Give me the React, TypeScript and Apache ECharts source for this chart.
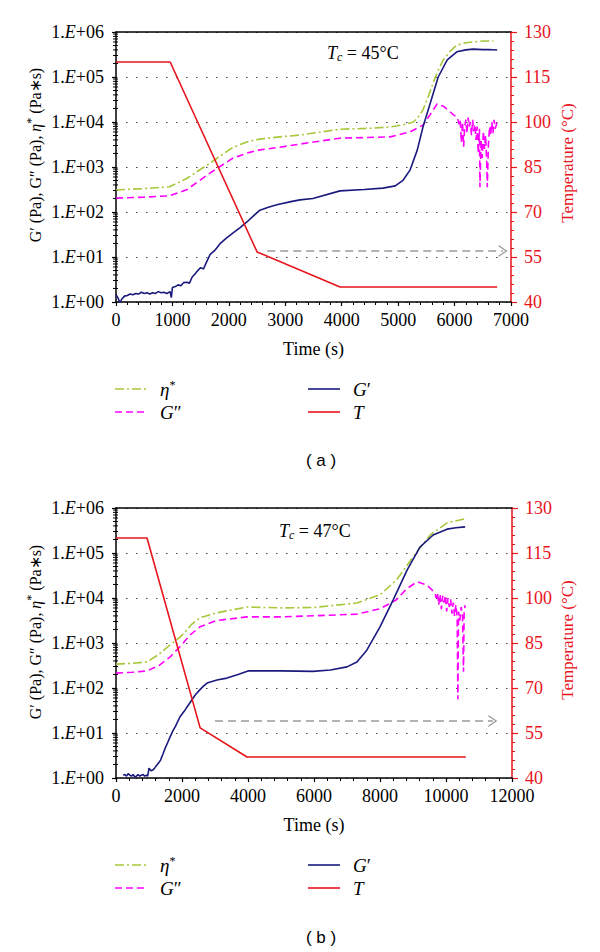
import React, { useEffect, useRef } from "react";
import * as echarts from "echarts";

// ---------- Chart (a) data : Tc = 45 °C ----------
const tEtaA = [0, 500, 950, 1260, 1670, 2075, 2350, 2550, 2900, 3260, 3970, 4500, 4860, 5100, 5270, 5350, 5440, 5530, 5620, 5710, 5800, 5920, 6040, 6200, 6330, 6500, 6690];
const etaA = [309, 331, 363, 562, 1230, 2754, 3715, 4169, 4677, 5129, 6918, 7244, 7762, 8710, 10000, 12590, 18620, 35480, 74130, 141300, 239900, 371500, 512900, 575400, 602600, 631000, 631000];

const tGppA = [0, 500, 950, 1260, 1670, 2075, 2350, 2550, 2900, 3260, 3970, 4860, 5210, 5440, 5560, 5690, 5800, 5900, 5980, 6050, 6080, 6100, 6120, 6140, 6160, 6180, 6200, 6220, 6240, 6260, 6280, 6300, 6320, 6340, 6360, 6380, 6400, 6420, 6440, 6450, 6470, 6490, 6510, 6530, 6550, 6570, 6580, 6600, 6620, 6640, 6660, 6680, 6700, 6720, 6750];
const gppA = [204, 214, 229, 316, 741, 1585, 2089, 2399, 2754, 3236, 4365, 4677, 6026, 8511, 14130, 25120, 22390, 17780, 14450, 12590, 8910, 11220, 3550, 10000, 2820, 7940, 11220, 5620, 12590, 7940, 10000, 5010, 11220, 6310, 8910, 3980, 7940, 2000, 7080, 355, 3980, 1585, 6310, 2510, 5010, 1260, 355, 3160, 7940, 5010, 10000, 5620, 11220, 7080, 9550];

const tGpA = [0, 40, 70, 100, 150, 200, 250, 300, 350, 400, 450, 500, 550, 600, 650, 700, 750, 800, 850, 900, 960, 980, 1000, 1050, 1100, 1150, 1200, 1260, 1300, 1350, 1400, 1450, 1500, 1550, 1600, 1670, 1750, 1840, 1950, 2070, 2200, 2320, 2450, 2550, 2700, 2850, 3100, 3260, 3490, 3970, 4400, 4730, 4950, 5090, 5210, 5340, 5440, 5570, 5710, 5870, 6040, 6200, 6330, 6500, 6600, 6755];
const gpA = [1.45, 1.2, 0.95, 1.15, 1.35, 1.4, 1.5, 1.45, 1.55, 1.5, 1.65, 1.55, 1.6, 1.5, 1.6, 1.55, 1.7, 1.6, 1.65, 1.55, 1.7, 1.25, 2.1, 2.2, 2.4, 2.3, 2.7, 2.75, 2.6, 3.6, 4.2, 5.0, 5.8, 5.4, 7.5, 11.5, 14, 19.5, 26, 34, 45, 60, 85, 110, 128, 145, 170, 186, 200, 295, 316, 339, 380, 513, 851, 2400, 7760, 26300, 100000, 240000, 363000, 400000, 417000, 405000, 410000, 398000];

const tTA = [0, 960, 2500, 3970, 6755];
const tempA = [120, 120, 56.7, 45, 45];
const arrowA = [[2680, 57], [6860, 57]];

// ---------- Chart (b) data : Tc = 47 °C ----------
const tEtaB = [0, 500, 940, 1300, 1640, 1940, 2100, 2300, 2545, 3050, 3970, 5000, 6000, 7300, 8000, 8500, 9000, 9520, 10030, 10580];
const etaB = [339, 355, 380, 562, 912, 1349, 1778, 2630, 3631, 4677, 6310, 6026, 6166, 7762, 11750, 25120, 81280, 251200, 467700, 575400];

const tGppB = [0, 500, 940, 1300, 1640, 1940, 2250, 2545, 3050, 3970, 5000, 7300, 8000, 8500, 8800, 9120, 9420, 9670, 9700, 9740, 9780, 9820, 9860, 9900, 9940, 9980, 10020, 10060, 10100, 10140, 10180, 10220, 10260, 10300, 10340, 10360, 10380, 10420, 10460, 10500, 10530, 10550, 10580];
const gppB = [214, 224, 240, 316, 490, 832, 1514, 2291, 3162, 3802, 3802, 4365, 5754, 9120, 15850, 22910, 19500, 12880, 10000, 13180, 7080, 12020, 5620, 11220, 7940, 11480, 5010, 10000, 6310, 9330, 4470, 7940, 3980, 7080, 3550, 56, 5010, 3160, 6310, 3980, 229, 5010, 6920];

const tGpB = [220, 270, 320, 370, 420, 470, 520, 570, 620, 670, 720, 770, 820, 870, 920, 960, 1000, 1060, 1120, 1180, 1240, 1300, 1350, 1430, 1500, 1560, 1640, 1720, 1800, 1940, 2100, 2240, 2400, 2545, 2650, 2760, 3060, 3360, 3700, 4000, 5000, 5970, 6500, 7000, 7300, 7600, 8000, 8400, 8820, 9210, 9610, 10030, 10300, 10580];
const gpB = [1.15, 1.2, 1.1, 1.25, 1.15, 1.1, 1.2, 1.05, 1.1, 1.2, 1.1, 1.15, 1.2, 1.1, 1.15, 1.1, 1.65, 1.45, 1.5, 1.7, 1.95, 2.2, 2.5, 3.5, 4.8, 6.0, 8.2, 11, 14, 23, 33, 47, 70, 92, 110, 129, 150, 166, 200, 240, 240, 234, 251, 295, 380, 692, 2290, 9120, 41690, 134900, 251200, 338800, 363100, 380200];

const tTB = [0, 940, 2550, 3970, 10600];
const tempB = [120, 120, 56.7, 47, 47];
const arrowB = [[3000, 59], [11420, 59]];

// ---------- axis / label constants ----------
const xMaxA = 7000;
const xIntA = 1000;
const xMaxB = 12000;
const xIntB = 2000;
const tempMin = 40;
const tempMax = 130;
const tempInt = 15;
const logMin = 1;
const logMax = 1e6;
const titleA = "45°C";
const titleB = "47°C";

const SERIF = "Liberation Serif";
const RED = "#e8141c";
const GREEN = "#a6c83a";
const MAGENTA = "#ff00ff";
const NAVY = "#1a1a7e";
const TICKFS = 18;

const zip = (xs: number[], ys: number[]) => xs.map((x, i) => [x, ys[i]]);

// minor tick positions of the log axis (2..9 × 10^n)
const minorLog: number[][] = [];
for (let n = 0; n < 6; n++) for (let k = 2; k <= 9; k++) minorLog.push([0, k * Math.pow(10, n)]);

const chevron = "path://M0,10 L6,0 L12,10 L10.6,10 L6,2.4 L1.4,10 Z";

function buildGrid(gi: number, xMax: number, xInt: number, data: any) {
  const xi = gi * 2;
  const yi = gi * 2;
  const xAxes = [
    {
      type: "value", gridIndex: gi, position: "bottom", min: 0, max: xMax, interval: xInt,
      axisLine: { show: true, onZero: false, lineStyle: { color: "#000", width: 1.5 } },
      axisTick: { show: true, inside: false, length: 4, lineStyle: { color: "#000", width: 1.2 } },
      minorTick: { show: true, splitNumber: 5, length: 3, lineStyle: { color: "#000", width: 1 } },
      axisLabel: { color: "#000", fontFamily: SERIF, fontSize: TICKFS, margin: 9, formatter: (v: number) => String(v) },
      splitLine: { show: false },
      name: "Time (s)", nameLocation: "middle", nameGap: 38,
      nameTextStyle: { color: "#000", fontFamily: SERIF, fontSize: 18 },
    },
    {
      type: "value", gridIndex: gi, position: "top", min: 0, max: xMax,
      axisLine: { show: true, onZero: false, lineStyle: { color: "#000", width: 1.5 } },
      axisTick: { show: false }, axisLabel: { show: false }, splitLine: { show: false },
    },
  ];
  const yAxes = [
    {
      type: "log", gridIndex: gi, position: "left", min: logMin, max: logMax, logBase: 10, interval: 1,
      axisLine: { show: true, onZero: false, lineStyle: { color: "#000", width: 1.5 } },
      axisTick: { show: true, inside: false, length: 4, lineStyle: { color: "#000", width: 1.2 } },
      axisLabel: {
        margin: 12,
        formatter: (v: number) => {
          const k = Math.round(Math.log10(v));
          return "{n|1.}{e|E}{n|+0" + k + "}";
        },
        rich: {
          n: { fontFamily: SERIF, fontSize: TICKFS, color: "#000" },
          e: { fontFamily: SERIF, fontSize: TICKFS, color: "#000", fontStyle: "italic" },
        },
      },
      splitLine: { show: true, lineStyle: { color: "#444", width: 1, type: [1.5, 8.5] } },
    },
    {
      type: "value", gridIndex: gi, position: "right", min: tempMin, max: tempMax, interval: tempInt,
      axisLine: { show: true, onZero: false, lineStyle: { color: RED, width: 1.5 } },
      axisTick: { show: true, inside: false, length: 6, lineStyle: { color: RED, width: 1.2 } },
      minorTick: { show: true, splitNumber: 5, length: 3, lineStyle: { color: RED, width: 1 } },
      axisLabel: { color: RED, fontFamily: SERIF, fontSize: TICKFS, margin: 13 },
      splitLine: { show: false },
    },
  ];
  const series = [
    {
      name: "eta", type: "line", xAxisIndex: xi, yAxisIndex: yi, data: data.eta, showSymbol: false, symbol: "none",
      lineStyle: { color: GREEN, width: 1.6, type: [9, 3, 2, 3] }, itemStyle: { color: GREEN },
    },
    {
      name: "Gpp", type: "line", xAxisIndex: xi, yAxisIndex: yi, data: data.gpp, showSymbol: false, symbol: "none",
      lineStyle: { color: MAGENTA, width: 1.6, type: [7, 4] }, itemStyle: { color: MAGENTA },
    },
    {
      name: "Gp", type: "line", xAxisIndex: xi, yAxisIndex: yi, data: data.gp, showSymbol: false, symbol: "none",
      lineStyle: { color: NAVY, width: 1.6 }, itemStyle: { color: NAVY },
    },
    {
      name: "T", type: "line", xAxisIndex: xi, yAxisIndex: yi + 1, data: data.t, showSymbol: false, symbol: "none",
      lineStyle: { color: RED, width: 1.6 }, itemStyle: { color: RED },
      markLine: {
        silent: true, animation: false,
        symbol: ["none", chevron], symbolSize: [12, 9],
        label: { show: false },
        lineStyle: { color: "#9a9a9a", width: 1.5, type: [8, 5] },
        data: [[{ coord: data.arrow[0] }, { coord: data.arrow[1] }]],
      },
    },
    {
      type: "custom", xAxisIndex: xi, yAxisIndex: yi, data: minorLog, silent: true, clip: false,
      renderItem: (params: any, api: any) => {
        const p = api.coord([api.value(0), api.value(1)]);
        return {
          type: "line",
          shape: { x1: p[0] - 3, y1: p[1], x2: p[0] + 2, y2: p[1] },
          style: { stroke: "#000", lineWidth: 1 },
        };
      },
    },
  ];
  return { xAxes, yAxes, series };
}

const legendRich = {
  i: { fontFamily: SERIF, fontSize: 19, fontStyle: "italic", fill: "#000", lineHeight: 20 },
  n: { fontFamily: SERIF, fontSize: 19, fill: "#000", lineHeight: 20 },
  s: { fontFamily: SERIF, fontSize: 12, fill: "#000", verticalAlign: "top", lineHeight: 12 },
};

function legendItem(x: number, y: number, color: string, dash: number[] | null, label: string) {
  return [
    {
      type: "line", shape: { x1: x, y1: y, x2: x + 32, y2: y },
      style: { stroke: color, lineWidth: 1.6, lineDash: dash || undefined },
    },
    {
      type: "text", x: x + 45, y,
      style: { text: label, rich: legendRich, verticalAlign: "middle", align: "left" },
    },
  ];
}

function legendBlock(top: number) {
  return [
    ...legendItem(115, top, GREEN, [9, 3, 2, 3], "{i|η}{s|*}"),
    ...legendItem(115, top + 23, MAGENTA, [7, 4], "{i|G}{n|″}"),
    ...legendItem(308, top, NAVY, null, "{i|G}{n|′}"),
    ...legendItem(308, top + 23, RED, null, "{i|T}"),
  ];
}

function titleText(x: number, y: number, val: string) {
  return {
    type: "text", x, y,
    style: {
      text: "{i|T}{s|c}{n| = " + val + "}",
      rich: {
        i: { fontFamily: SERIF, fontSize: 18, fontStyle: "italic", fill: "#000", lineHeight: 20 },
        s: { fontFamily: SERIF, fontSize: 12, fontStyle: "italic", fill: "#000", lineHeight: 12, verticalAlign: "bottom" },
        n: { fontFamily: SERIF, fontSize: 18, fill: "#000", lineHeight: 20 },
      },
      verticalAlign: "middle",
    },
  };
}

function yName(x: number, y: number) {
  return {
    type: "text", x, y, rotation: Math.PI / 2,
    style: {
      text: "{n|G′ (Pa), G″ (Pa), }{i|η}{s|*}{n| (Pa∗s)}",
      align: "center", verticalAlign: "middle",
      rich: {
        n: { fontFamily: SERIF, fontSize: 16, fill: "#000", lineHeight: 20 },
        i: { fontFamily: SERIF, fontSize: 16, fontStyle: "italic", fill: "#000", lineHeight: 20 },
        s: { fontFamily: SERIF, fontSize: 12, fill: "#000", lineHeight: 12, verticalAlign: "top" },
      },
    },
  };
}

function tName(x: number, y: number) {
  return {
    type: "text", x, y, rotation: Math.PI / 2,
    style: {
      text: "Temperature (°C)", fontFamily: SERIF, fontSize: 17, fill: RED,
      align: "center", verticalAlign: "middle",
    },
  };
}

function panelLabel(x: number, y: number, txt: string) {
  return {
    type: "text", x, y,
    style: {
      text: txt, fontFamily: "Liberation Sans", fontSize: 17, fill: "#000",
      align: "center", verticalAlign: "middle",
    },
  };
}

export default function App() {
  const ref = useRef<HTMLDivElement>(null);
  useEffect(() => {
    document.body.style.margin = "0";
    if (!ref.current) return;
    const chart = echarts.init(ref.current, null, { renderer: "svg" });
    const a = buildGrid(0, xMaxA, xIntA, {
      eta: zip(tEtaA, etaA), gpp: zip(tGppA, gppA), gp: zip(tGpA, gpA), t: zip(tTA, tempA), arrow: arrowA,
    });
    const b = buildGrid(1, xMaxB, xIntB, {
      eta: zip(tEtaB, etaB), gpp: zip(tGppB, gppB), gp: zip(tGpB, gpB), t: zip(tTB, tempB), arrow: arrowB,
    });
    chart.setOption({
      animation: false,
      backgroundColor: "#fff",
      grid: [
        { left: 116, top: 32, width: 395, height: 270 },
        { left: 116, top: 508, width: 396, height: 270 },
      ],
      xAxis: [...a.xAxes, ...b.xAxes],
      yAxis: [...a.yAxes, ...b.yAxes],
      series: [...a.series, ...b.series],
      graphic: [
        ...legendBlock(389),
        ...legendBlock(865),
        titleText(327, 53, titleA),
        titleText(279, 531, titleB),
        yName(35, 155),
        yName(35, 632),
        tName(567, 163),
        tName(567, 640),
        panelLabel(321, 460, "( a )"),
        panelLabel(321, 937, "( b )"),
      ],
    });
    return () => chart.dispose();
  }, []);
  return <div ref={ref} style={{ width: 600, height: 952 }} />;
}
